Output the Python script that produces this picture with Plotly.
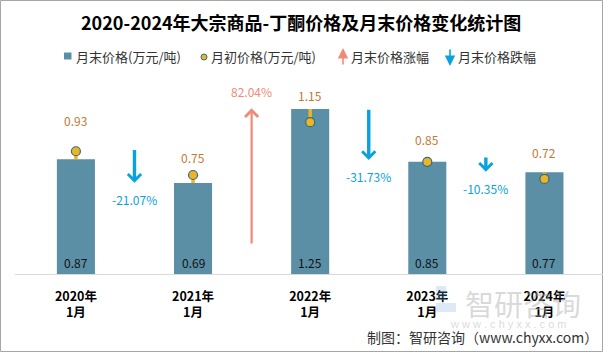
import plotly.graph_objects as go

# ---- data ----
years = ["2020年<br>1月", "2021年<br>1月", "2022年<br>1月", "2023年<br>1月", "2024年<br>1月"]
end_price = [0.87, 0.69, 1.25, 0.85, 0.77]     # 月末价格(万元/吨)
start_price = [0.93, 0.75, 1.15, 0.85, 0.72]   # 月初价格(万元/吨)
change_pct = [-21.07, 82.04, -31.73, -10.35]   # 月末价格涨跌幅 (%)
arrow_tail = [0.95, 0.22, 1.255, 0.894]         # arrow start values
arrow_tip = [0.692, 1.255, 0.864, 0.775]        # arrow end values

# ---- style ----
BAR = "#5B8FA6"
DOT = "#F0B323"
DOT_EDGE = "#2F6F82"
START_LBL = "#C07A35"
UP = "#F08B78"
DOWN = "#0AA2DD"
FONT = "Noto Sans CJK SC"
label_shift = [31, 18, 27, 22, 26]

L, W, BASE, H = 15, 588, 274, 194
def px2x(px):
    return (px - L) / W
def py2y(py):
    return (BASE - py) / H

xs = list(range(len(years)))
err_plus = [max(e - s, 0) for s, e in zip(start_price, end_price)]
err_minus = [max(s - e, 0) for s, e in zip(start_price, end_price)]

fig = go.Figure()
fig.add_trace(go.Bar(
    x=xs, y=end_price, width=0.325, marker=dict(color=BAR, line=dict(width=0)),
    name="月末价格(万元/吨)", showlegend=False, hoverinfo="y"))
fig.add_trace(go.Scatter(
    x=xs, y=start_price, mode="markers", name="月初价格(万元/吨)", showlegend=False,
    marker=dict(color=DOT, size=9, line=dict(color=DOT_EDGE, width=1.2)),
    error_y=dict(type="data", symmetric=False, array=err_plus, arrayminus=err_minus,
                 color=DOT, thickness=3.5, width=0)))

ann = []
# start price labels
for i, (x, v) in enumerate(zip(xs, start_price)):
    ann.append(dict(x=x, y=v, text=f"{v:.2f}", showarrow=False, yshift=label_shift[i],
                    xanchor="center", yanchor="middle",
                    font=dict(size=12, color=START_LBL, family=FONT)))
# end price labels at bar bottom
for x, v in zip(xs, end_price):
    ann.append(dict(x=x, y=0, text=f"{v:.2f}", showarrow=False, yshift=12,
                    xanchor="center", yanchor="middle",
                    font=dict(size=12, color="#111111", family=FONT)))
# change arrows
for i, pct in enumerate(change_pct):
    xm = i + 0.5
    up = pct > 0
    col = UP if up else DOWN
    ann.append(dict(x=xm, y=arrow_tip[i], ax=xm, ay=arrow_tail[i], axref="x", ayref="y",
                    xref="x", yref="y", text="", showarrow=True, arrowhead=4,
                    arrowsize=1.15 if up else 0.75, arrowwidth=2.2 if up else 3.4,
                    arrowcolor=col, standoff=0, startstandoff=0))
    ann.append(dict(x=xm, y=arrow_tip[i], text=f"{pct:.2f}%", showarrow=False,
                    yshift=17 if up else -17, xanchor="center", yanchor="middle",
                    font=dict(size=12, color=col, family=FONT)))

def ptext(px, py, text, font, xanchor="center"):
    return dict(x=px2x(px), y=py2y(py), xref="paper", yref="paper", showarrow=False,
                xanchor=xanchor, yanchor="middle", text=text, font=font)

# title
ann.append(ptext(301, 22, "<b>2020-2024年大宗商品-丁酮价格及月末价格变化统计图</b>",
                 dict(size=18, color="#000000", family=FONT)))

# legend (manual)
LEG_Y = 56
leg_font = dict(size=13, color="#333333", family=FONT)
shapes = []
shapes.append(dict(type="rect", xref="paper", yref="paper",
                   x0=px2x(64), x1=px2x(71.5), y0=py2y(59.5), y1=py2y(52.5),
                   fillcolor=BAR, line=dict(width=0)))
ann.append(ptext(74, LEG_Y, "月末价格(万元/吨)", leg_font, "left"))
shapes.append(dict(type="circle", xref="paper", yref="paper",
                   x0=px2x(201), x1=px2x(207), y0=py2y(60), y1=py2y(54),
                   fillcolor=DOT, line=dict(color=DOT_EDGE, width=1)))
ann.append(ptext(209, LEG_Y, "月初价格(万元/吨)", leg_font, "left"))
ann.append(dict(x=px2x(343), y=py2y(48), ax=0, ay=18, xref="paper", yref="paper",
                axref="pixel", ayref="pixel", text="", showarrow=True, arrowhead=2,
                arrowsize=1.3, arrowwidth=1.6, arrowcolor=UP, standoff=0))
ann.append(ptext(349, LEG_Y, "月末价格涨幅", leg_font, "left"))
ann.append(dict(x=px2x(450), y=py2y(66), ax=0, ay=-18, xref="paper", yref="paper",
                axref="pixel", ayref="pixel", text="", showarrow=True, arrowhead=2,
                arrowsize=1.3, arrowwidth=1.6, arrowcolor=DOWN, standoff=0))
ann.append(ptext(456, LEG_Y, "月末价格跌幅", leg_font, "left"))

# watermark
wm = "rgba(170,170,170,0.45)"
ann.append(ptext(523, 303, "智研咨询", dict(size=29, color=wm, family=FONT)))
ann.append(ptext(508, 324, "w w w . c h y x x . c o m",
                 dict(size=11, color=wm, family="Liberation Sans")))
shapes.append(dict(type="rect", xref="paper", yref="paper",
                   x0=px2x(436), x1=px2x(446), y0=py2y(300), y1=py2y(286),
                   fillcolor="rgba(120,170,220,0.25)", line=dict(width=0)))
shapes.append(dict(type="rect", xref="paper", yref="paper",
                   x0=px2x(436), x1=px2x(456), y0=py2y(312), y1=py2y(303),
                   fillcolor="rgba(120,170,220,0.25)", line=dict(width=0)))

# footer
ann.append(ptext(600, 337, "制图：智研咨询（www.chyxx.com）",
                 dict(size=14, color="#333333", family=FONT), "right"))

# outer frame
shapes.append(dict(type="rect", xref="paper", yref="paper",
                   x0=px2x(0.5), x1=px2x(602.5), y0=py2y(351.5), y1=py2y(0.5),
                   line=dict(color="#A6A6A6", width=1), fillcolor="rgba(0,0,0,0)", layer="below"))

fig.update_layout(
    width=603, height=352,
    margin=dict(l=L, r=603 - L - W, t=BASE - H, b=352 - BASE),
    paper_bgcolor="white", plot_bgcolor="white",
    showlegend=False, annotations=ann, shapes=shapes,
    font=dict(family=FONT),
    xaxis=dict(range=[-0.52, 4.5], tickvals=xs,
               ticktext=[f"<b>{t}</b>" for t in years],
               tickfont=dict(size=12.5, color="#000000", family=FONT),
               ticklabelstandoff=11,
               showline=True, linecolor="#D9D9D9", linewidth=1, ticks="",
               showgrid=False, zeroline=False, fixedrange=True),
    yaxis=dict(range=[0, H / 132], visible=False, showgrid=False, zeroline=False,
               fixedrange=True),
)

fig.write_html("out.html")
